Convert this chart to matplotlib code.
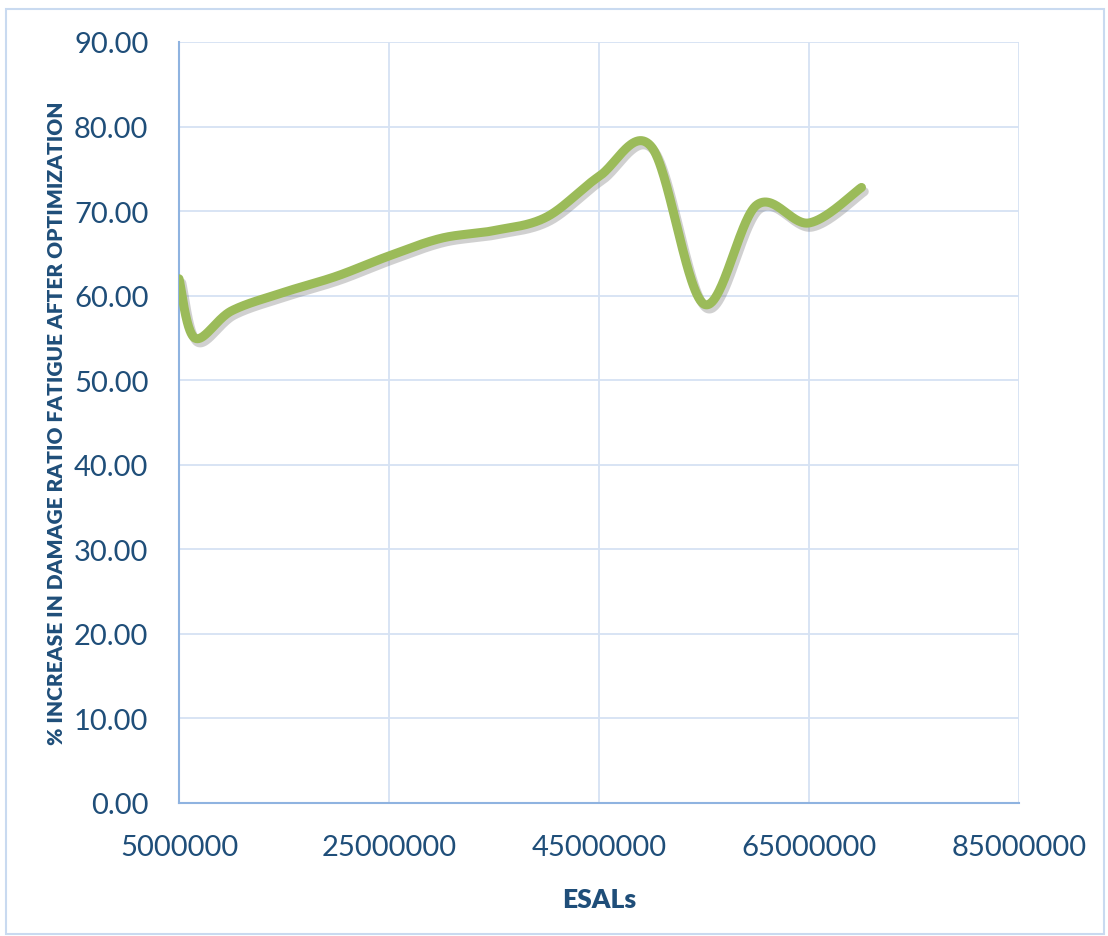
import numpy as np
import matplotlib.pyplot as plt
import matplotlib.patheffects as pe
from matplotlib.patches import Rectangle

# ESALs vs % increase in damage ratio (fatigue)
esals = [5e6, 6.5e6, 10e6, 15e6, 20e6, 25e6, 30e6, 35e6, 40e6, 45e6,
         50e6, 55e6, 60e6, 65e6, 70e6]
increase = [62.0, 55.0, 58.2, 60.4, 62.3, 64.7, 66.8, 67.7, 69.3, 74.1,
            77.6, 59.0, 70.7, 68.6, 72.8]

x_ticks = [5000000, 25000000, 45000000, 65000000, 85000000]
y_ticks = [0, 10, 20, 30, 40, 50, 60, 70, 80, 90]

text_col = "#1F4E79"
grid_col = "#D6E2F3"
spine_col = "#8FB3E0"
line_col = "#9BBB59"


def smooth_curve(xs, ys, n=60):
    # cubic bezier through every point, spreadsheet style smoothing
    P = np.column_stack([xs, ys])
    ext = np.vstack([P[0], P, P[-1]])
    out = []
    t = np.linspace(0, 1, n)[:, None]
    for i in range(len(P) - 1):
        p0, p1 = ext[i + 1], ext[i + 2]
        c1 = p0 + (ext[i + 2] - ext[i]) / 6
        c2 = p1 - (ext[i + 3] - ext[i + 1]) / 6
        seg = ((1 - t) ** 3) * p0 + 3 * ((1 - t) ** 2) * t * c1 \
            + 3 * (1 - t) * t ** 2 * c2 + t ** 3 * p1
        out.append(seg if i == 0 else seg[1:])
    pts = np.vstack(out)
    return pts[:, 0], pts[:, 1]


plt.rcParams['font.family'] = ['Lato', 'DejaVu Sans']

fig = plt.figure(figsize=(11.08, 9.37), dpi=100)
ax = fig.add_axes([179 / 1108, 1 - 804 / 937, 840 / 1108, 761 / 937])

sx, sy = smooth_curve(esals, increase)
ax.plot(sx, sy, color=line_col, lw=6.5, solid_capstyle='round', zorder=3,
        path_effects=[pe.SimpleLineShadow(offset=(2, -3), shadow_color='#666666', alpha=0.3),
                      pe.Normal()])

ax.set_xlim(5e6, 85e6)
ax.set_ylim(0, 90)
ax.set_xticks(x_ticks)
ax.set_yticks(y_ticks)
ax.set_xticklabels([str(v) for v in x_ticks])
ax.set_yticklabels(["%.2f" % v for v in y_ticks])
ax.tick_params(length=0, labelsize=21, labelcolor=text_col)
ax.tick_params(axis='x', pad=22)
ax.tick_params(axis='y', pad=22)

ax.grid(True, color=grid_col, lw=1.3)
ax.set_axisbelow(True)
for side in ['top', 'right']:
    ax.spines[side].set_visible(False)
for side in ['left', 'bottom']:
    ax.spines[side].set_color(spine_col)
    ax.spines[side].set_linewidth(1.5)

ax.set_xlabel("ESALs", fontsize=19, fontweight='heavy', color=text_col, labelpad=20)
ax.set_ylabel("% INCREASE IN DAMAGE RATIO FATIGUE AFTER OPTIMIZATION", fontsize=15,
              fontweight='heavy', color=text_col, labelpad=6)

fig.patches.append(Rectangle((6 / 1108, 1 - 935 / 937), 1098 / 1108, 925 / 937,
                             transform=fig.transFigure, fill=False,
                             edgecolor='#C9DAF0', lw=1.5))

fig.savefig("out.png", dpi=100)
